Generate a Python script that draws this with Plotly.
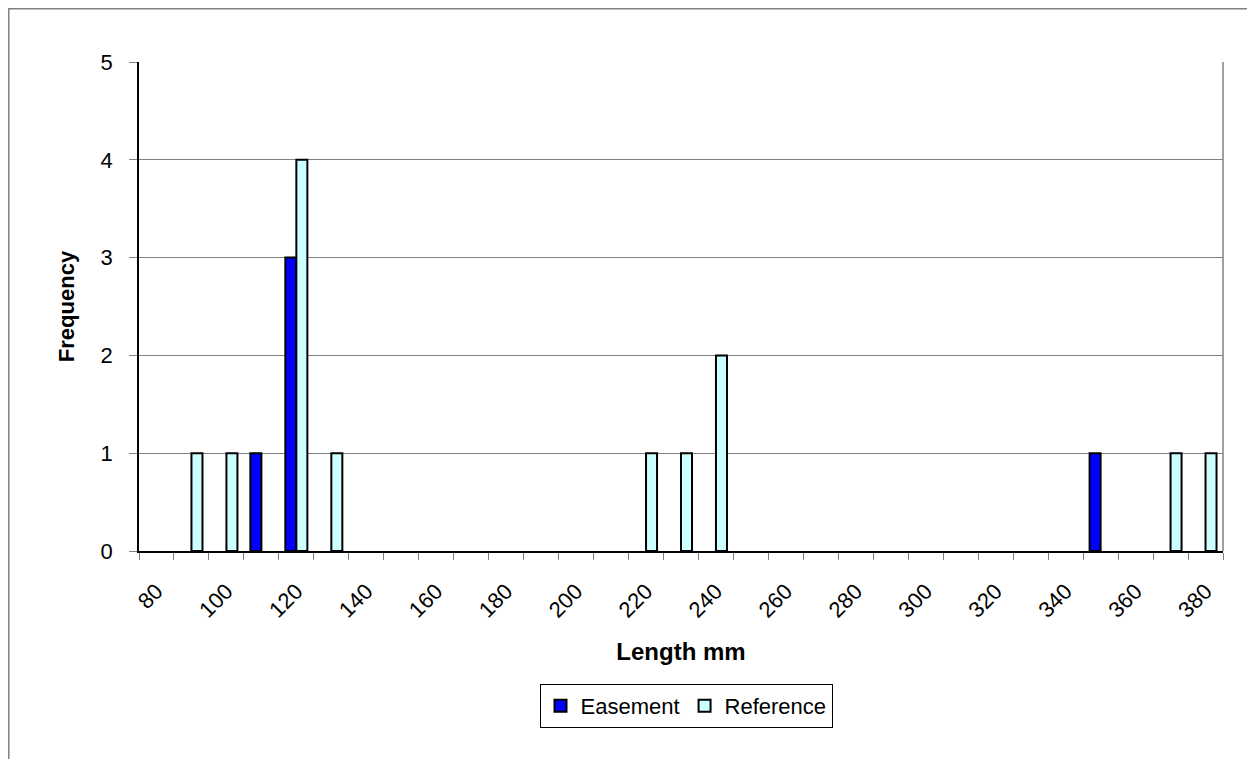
import plotly.graph_objects as go

# ---- data ----
lengths = ["80", "90", "100", "110", "120", "130", "140", "150", "160", "170",
           "180", "190", "200", "210", "220", "230", "240", "250", "260", "270",
           "280", "290", "300", "310", "320", "330", "340", "350", "360", "370", "380"]
tick_labels = ["80", "", "100", "", "120", "", "140", "", "160", "",
               "180", "", "200", "", "220", "", "240", "", "260", "",
               "280", "", "300", "", "320", "", "340", "", "360", "", "380"]
easement = [0, 0, 0, 1, 3, 0, 0, 0, 0, 0,
            0, 0, 0, 0, 0, 0, 0, 0, 0, 0,
            0, 0, 0, 0, 0, 0, 0, 1, 0, 0, 0]
reference = [0, 1, 1, 0, 4, 1, 0, 0, 0, 0,
             0, 0, 0, 0, 1, 1, 2, 0, 0, 0,
             0, 0, 0, 0, 0, 0, 0, 0, 0, 1, 1]

def nz(v):
    return [x if x else None for x in v]

FONT = "Liberation Sans, Arial, sans-serif"
OFF = 8  # page body margin
W, H = 1255 - OFF, 759 - OFF
L, R, T, B = 139 - OFF, 1223 - OFF, 62 - OFF, 551 - OFF
pw, ph = R - L, B - T

def px_x(x):
    return (x - OFF - L) / pw

def px_y(y):
    return (B - (y - OFF)) / ph

fig = go.Figure()
fig.add_trace(go.Bar(x=lengths, y=nz(easement), name="Easement",
                     marker=dict(color="#0000FF", line=dict(color="#000000", width=2))))
fig.add_trace(go.Bar(x=lengths, y=nz(reference), name="Reference",
                     marker=dict(color="#CCFFFF", line=dict(color="#000000", width=2))))

fig.update_layout(
    width=W, height=H,
    margin=dict(l=L, r=W - R, t=T, b=H - B, autoexpand=False),
    paper_bgcolor="white", plot_bgcolor="white",
    barmode="group", bargap=0.37, bargroupgap=0,
    font=dict(family=FONT, size=22, color="black"),
    showlegend=True,
    legend=dict(orientation="h", x=px_x(686), xanchor="center", y=px_y(684), yanchor="top",
                bordercolor="#000000", borderwidth=1, font=dict(size=22),
                itemwidth=30, traceorder="normal"),
    xaxis=dict(type="category", categoryorder="array", categoryarray=lengths,
               tickmode="array", tickvals=lengths, ticktext=tick_labels,
               tickson="boundaries", ticks="outside", ticklen=7, tickcolor="#808080",
               tickangle=-45, tickfont=dict(size=22), ticklabelstandoff=17,
               showgrid=False, showline=True, linecolor="#000000", linewidth=1.5,
               automargin=False,
               title=dict(text="<b>Length mm</b>", font=dict(size=24), standoff=22)),
    yaxis=dict(range=[0, 5], dtick=1, tick0=0, ticks="outside", ticklen=8, tickcolor="#808080",
               tickfont=dict(size=22), ticklabelstandoff=12,
               showgrid=True, gridcolor="#808080", gridwidth=1,
               showline=True, linecolor="#000000", linewidth=1.5,
               zeroline=False, automargin=False,
               title=dict(text="<b>Frequency</b>", font=dict(size=22), standoff=20)),
    shapes=[
        # plot area right edge
        dict(type="line", xref="paper", yref="paper", x0=1, x1=1, y0=0, y1=1,
             line=dict(color="#808080", width=1.5)),
        # outer chart border (extends beyond the visible window)
        dict(type="rect", xref="paper", yref="paper",
             x0=px_x(8.8), x1=px_x(1300), y0=px_y(800), y1=px_y(8.8),
             line=dict(color="#808080", width=1.5), fillcolor="rgba(0,0,0,0)", layer="above"),
    ],
)

fig.write_html("out.html")
